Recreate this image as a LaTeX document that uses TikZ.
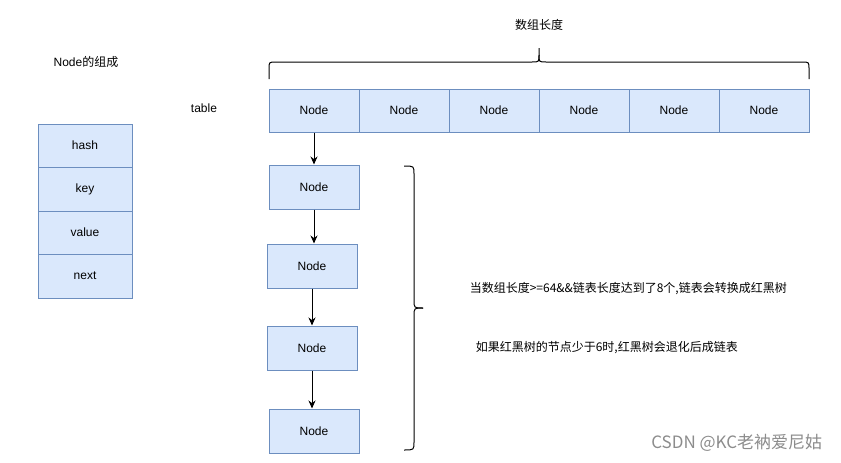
\documentclass[tikz,border=0pt]{standalone}
\usepackage{fontspec}
\setmainfont{Liberation Sans}
\newfontfamily\cjk{Noto Sans CJK SC}
\usepackage{xcolor}
\usetikzlibrary{arrows.meta, positioning}

\definecolor{nodefill}{HTML}{DAE8FC}
\definecolor{nodeedge}{HTML}{6C8EBF}

\begin{document}
\begin{tikzpicture}[
    x=1pt, y=-1pt,
    font=\fontsize{12}{14}\selectfont,
    >={Stealth[length=8pt, width=7pt]},
    line width=1pt,
    cellbox/.style={rectangle, draw=nodeedge, fill=nodefill, minimum width=90pt, minimum height=43pt, inner sep=0pt},
    fieldbox/.style={rectangle, draw=nodeedge, fill=nodefill, minimum width=94pt, minimum height=44pt, inner sep=0pt},
    next_edge/.style={->, black},
    brace_line/.style={black, line width=1pt},
    note/.style={anchor=west, font=\fontsize{12}{14}\selectfont\cjk},
]
    \useasboundingbox (0,0) rectangle (841,463);

    % ===== LEFT: fields of one Node =====
    \node (title) at (86,62) {Node{\cjk 的组成}};
    \node[fieldbox, minimum height=43pt] (hash) at (85,145.5) {hash};
    \node[fieldbox] (key) at (85,189) {key};
    \node[fieldbox, minimum height=43pt] (value) at (85,232.5) {value};
    \node[fieldbox] (next) at (85,276) {next};

    % ===== TOP: the table array =====
    \node (tablelbl) at (204,108) {table};
    \foreach \i in {0,...,5}
        \node[cellbox] (cell\i) at (314+90*\i,110.5) {Node};

    % brace over the array
    \node[font=\fontsize{12}{14}\selectfont\cjk] (lenlbl) at (539,25) {数组长度};
    \draw[brace_line] (269,79) -- (269,69) .. controls (269,62) .. (276,62) -- (532,62)
        .. controls (539,62) .. (539,55) -- (539,48);
    \draw[brace_line] (539,55) .. controls (539,62) .. (546,62) -- (802,62)
        .. controls (809,62) .. (809,69) -- (809,79);

    % ===== CHAIN under the first bucket =====
    \node[cellbox, minimum height=44pt] (n1) at (314,187) {Node};
    \node[cellbox, minimum height=44pt] (n2) at (312,266) {Node};
    \node[cellbox, minimum height=44pt] (n3) at (312,348) {Node};
    \node[cellbox, minimum height=44pt] (n4) at (314,431) {Node};

    \draw[next_edge] (cell0.south) -- (cell0.south |- n1.north);
    \draw[next_edge] (n1.south) -- (n1.south |- n2.north);
    \draw[next_edge] (n2.south) -- (n2.south |- n3.north);
    \draw[next_edge] (n3.south) -- (n3.south |- n4.north);

    % brace beside the chain
    \draw[brace_line] (404,166) .. controls (414,166) .. (414,174) -- (414,300)
        .. controls (414,308) .. (423,308);
    \draw[brace_line] (423,308) .. controls (414,308) .. (414,316) -- (414,442)
        .. controls (414,450) .. (404,450);

    % ===== NOTES =====
    \node[note] (treeify) at (466,289) {当数组长度>=64\&\&链表长度达到了8个,链表会转换成红黑树};
    \node[note] (untreeify) at (472,348) {如果红黑树的节点少于6时,红黑树会退化后成链表};

    % watermark
    \node[anchor=east, text=black!45, font=\fontsize{17}{20}\selectfont\cjk] (mark) at (826,443) {CSDN @KC老衲爱尼姑};

\end{tikzpicture}
\end{document}
